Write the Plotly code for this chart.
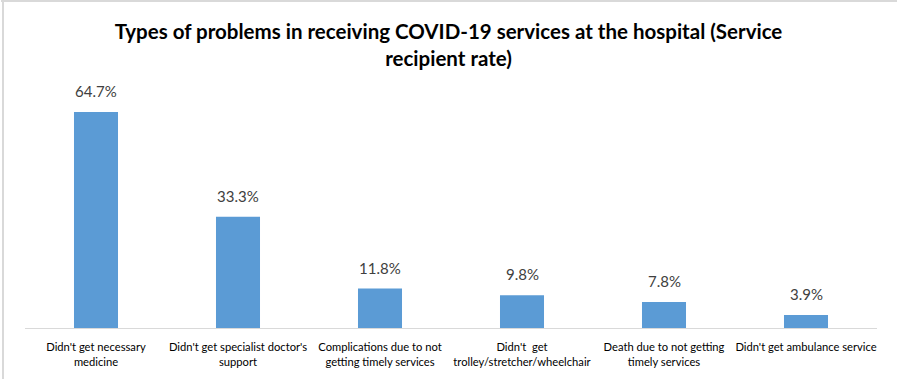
import plotly.graph_objects as go

categories = [
    "Didn't get necessary<br>medicine",
    "Didn't get specialist doctor's<br>support",
    "Complications due to not<br>getting timely services",
    "Didn't  get<br>trolley/stretcher/wheelchair",
    "Death due to not getting<br>timely services",
    "Didn't get ambulance service",
]
values = [64.7, 33.3, 11.8, 9.8, 7.8, 3.9]
labels = [f"{v:.1f}%" for v in values]

W, H = 897, 379
ml, mr, mt, mb = 25, 20, 90, 51
pw, ph = W - ml - mr, H - mt - mb

fig = go.Figure(go.Bar(
    x=categories, y=values,
    marker=dict(color="#5B9BD5", line=dict(width=0)),
    cliponaxis=False, hoverinfo="skip",
))

annotations = [
    dict(x=c, y=v, text=t, xref="x", yref="y", showarrow=False,
         yanchor="bottom", yshift=10,
         font=dict(family="Lato", size=15, color="#404040"))
    for c, v, t in zip(categories, values, labels)
]

shapes = [
    dict(type="rect", xref="paper", yref="paper",
         x0=-(ml - 1) / pw, x1=1 + mr / pw, y0=1 + (mt - 2) / ph, y1=1 + mt / ph,
         fillcolor="#D9D9D9", line=dict(width=0), layer="below"),
    dict(type="rect", xref="paper", yref="paper",
         x0=-(ml - 2) / pw, x1=-(ml - 4) / pw, y0=-mb / ph, y1=1 + mt / ph,
         fillcolor="#D9D9D9", line=dict(width=0), layer="below"),
]

fig.update_layout(
    width=W, height=H,
    margin=dict(l=ml, r=mr, t=mt, b=mb),
    paper_bgcolor="white", plot_bgcolor="white",
    title=dict(
        text="<b>Types of problems in receiving COVID-19 services at the hospital (Service<br>recipient rate)</b>",
        x=0.5, xanchor="center", y=1 - 39 / H, yanchor="top",
        font=dict(family="Lato", size=20.5, color="#000000"),
    ),
    bargap=0.69,
    xaxis=dict(showline=True, linecolor="#D9D9D9", linewidth=1, ticks="",
               ticklabelstandoff=9,
               tickfont=dict(family="Lato", size=11.2, color="#000000"),
               showgrid=False, fixedrange=True),
    yaxis=dict(range=[0, ph / 3.34], visible=False, showgrid=False, fixedrange=True),
    annotations=annotations,
    shapes=shapes,
    showlegend=False,
)

fig.write_html("out.html", config={"displayModeBar": False},
               post_script="document.body.style.margin='0';")
